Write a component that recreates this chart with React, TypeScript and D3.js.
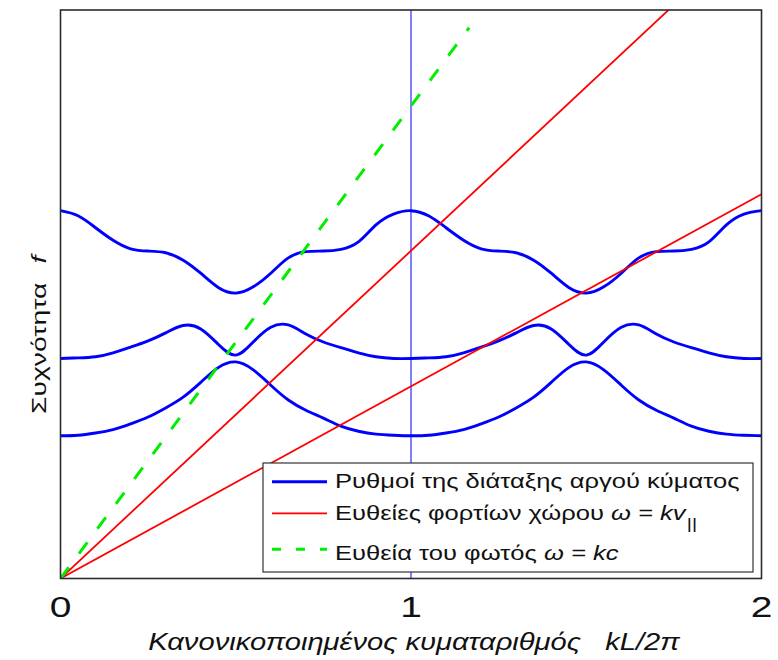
import * as d3 from 'd3';
import React, { useEffect, useRef } from 'react';

// normalized wave number kL/2π
const waveNumbers = [
  0, 0.05, 0.1, 0.15, 0.2, 0.25, 0.3, 0.35, 0.4, 0.45, 0.5, 0.55, 0.6, 0.65, 0.7, 0.75, 0.8, 0.85, 0.9, 0.95, 1,
  1.05, 1.1, 1.15, 1.2, 1.25, 1.3, 1.35, 1.4, 1.45, 1.5, 1.55, 1.6, 1.65, 1.7, 1.75, 1.8, 1.85, 1.9, 1.95, 2,
];

// slow-wave structure modes (normalized frequency)
const lowerMode = [
  0.251, 0.252, 0.256, 0.262, 0.272, 0.284, 0.3, 0.319, 0.345, 0.371, 0.381, 0.367, 0.34, 0.314, 0.296, 0.282, 0.268, 0.259, 0.254, 0.252, 0.251,
  0.252, 0.256, 0.262, 0.272, 0.284, 0.3, 0.319, 0.345, 0.371, 0.381, 0.367, 0.34, 0.314, 0.296, 0.282, 0.268, 0.259, 0.254, 0.252, 0.251,
];
const middleMode = [
  0.387, 0.388, 0.39, 0.397, 0.407, 0.418, 0.432, 0.445, 0.439, 0.412, 0.393, 0.416, 0.442, 0.446, 0.43, 0.416, 0.406, 0.397, 0.39, 0.387, 0.387,
  0.388, 0.39, 0.397, 0.407, 0.418, 0.432, 0.445, 0.439, 0.412, 0.393, 0.416, 0.442, 0.446, 0.43, 0.416, 0.406, 0.397, 0.39, 0.387, 0.387,
];
const upperMode = [
  0.647, 0.638, 0.617, 0.595, 0.58, 0.576, 0.573, 0.56, 0.537, 0.512, 0.502, 0.513, 0.537, 0.564, 0.575, 0.576, 0.579, 0.592, 0.622, 0.641, 0.647,
  0.638, 0.617, 0.595, 0.58, 0.576, 0.573, 0.56, 0.537, 0.512, 0.502, 0.513, 0.537, 0.564, 0.575, 0.576, 0.579, 0.592, 0.622, 0.641, 0.647,
];

// space-charge lines ω = k·v|| (slopes) and light line ω = k·c
const spaceChargeSlopes = [0.5765, 0.338];
const lightLineSlope = 0.831;
const lightLineEnd = 1.166;
const markerK = 1;

const xTicks = [0, 1, 2];
const xLabel = 'Κανονικοποιημένος κυματαριθμός   kL/2π';
const yLabel = 'Συχνότητα';
const yLabelSymbol = 'f';
const legendLabels = [
  'Ρυθμοί της διάταξης αργού κύματος',
  'Ευθείες φορτίων χώρου ',
  'Ευθεία του φωτός ',
];
const legendMath = ['', 'ω = kv', 'ω = kc'];

export default function App() {
  const svgRef = useRef<SVGSVGElement>(null);

  useEffect(() => {
    if (!svgRef.current) return;
    const width = 778;
    const height = 660;
    const margin = { top: 10, right: 16.5, bottom: 81.5, left: 60.5 };
    const font = '"Liberation Sans", Arial, sans-serif';
    const blue = '#0000ff';
    const red = '#ff0000';
    const green = '#00ee00';

    const svg = d3.select(svgRef.current).attr('width', width).attr('height', height);
    svg.selectAll('*').remove();

    const x = d3.scaleLinear().domain([0, 2]).range([margin.left, width - margin.right]);
    const y = d3.scaleLinear().domain([0, 1]).range([height - margin.bottom, margin.top]);

    svg.append('rect').attr('width', width).attr('height', height).attr('fill', '#fff');

    svg
      .append('clipPath')
      .attr('id', 'plot-clip')
      .append('rect')
      .attr('x', x(0))
      .attr('y', y(1))
      .attr('width', x(2) - x(0))
      .attr('height', y(0) - y(1));

    const plot = svg.append('g').attr('clip-path', 'url(#plot-clip)');

    // vertical marker at kL/2π = 1
    plot
      .append('line')
      .attr('x1', x(markerK))
      .attr('x2', x(markerK))
      .attr('y1', y(0))
      .attr('y2', y(1))
      .attr('stroke', blue)
      .attr('stroke-width', 1);

    const line = d3
      .line<number>()
      .x((_, i) => x(waveNumbers[i]))
      .y(d => y(d))
      .curve(d3.curveNatural);

    [lowerMode, middleMode, upperMode].forEach(mode => {
      plot
        .append('path')
        .attr('d', line(mode))
        .attr('fill', 'none')
        .attr('stroke', blue)
        .attr('stroke-width', 2.9);
    });

    spaceChargeSlopes.forEach(s => {
      plot
        .append('line')
        .attr('x1', x(0))
        .attr('y1', y(0))
        .attr('x2', x(2))
        .attr('y2', y(2 * s))
        .attr('stroke', red)
        .attr('stroke-width', 1.8);
    });

    plot
      .append('line')
      .attr('x1', x(0))
      .attr('y1', y(0))
      .attr('x2', x(lightLineEnd))
      .attr('y2', y(lightLineEnd * lightLineSlope))
      .attr('stroke', green)
      .attr('stroke-width', 3)
      .attr('stroke-dasharray', '14 17');

    // frame
    svg
      .append('rect')
      .attr('x', x(0))
      .attr('y', y(1))
      .attr('width', x(2) - x(0))
      .attr('height', y(0) - y(1))
      .attr('fill', 'none')
      .attr('stroke', '#2b2b2b')
      .attr('stroke-width', 1.6);

    // the original font is wider than Liberation Sans: stretch along the reading direction
    const stretch = 1.3;

    svg
      .append('g')
      .selectAll('text')
      .data(xTicks)
      .join('text')
      .attr('transform', d => `translate(${x(d)},617) scale(${stretch},1)`)
      .attr('text-anchor', 'middle')
      .attr('font-family', font)
      .attr('font-size', 30)
      .attr('fill', '#111')
      .text(d => d);

    svg
      .append('text')
      .attr('transform', `translate(414,650) scale(1.19,1)`)
      .attr('text-anchor', 'middle')
      .attr('font-family', font)
      .attr('font-size', 24.5)
      .attr('font-style', 'italic')
      .attr('fill', '#111')
      .style('white-space', 'pre')
      .text(xLabel);

    const yl = svg
      .append('text')
      .attr('transform', 'translate(46,414) rotate(-90) scale(1.38,1)')
      .attr('font-family', font)
      .attr('font-size', 20.5)
      .attr('fill', '#111');
    yl.append('tspan').text(yLabel);
    yl.append('tspan').attr('font-style', 'italic').attr('dx', 14).text(yLabelSymbol);

    // legend
    const legend = svg.append('g');
    legend
      .append('rect')
      .attr('x', 263)
      .attr('y', 463)
      .attr('width', 490)
      .attr('height', 109)
      .attr('fill', '#fff')
      .attr('stroke', '#333')
      .attr('stroke-width', 1.2);

    const rowY = [481.7, 513.3, 549.3];
    const rowBase = [487.5, 519.5, 560];
    const styles = [
      { stroke: blue, width: 2.9, dash: null },
      { stroke: red, width: 1.8, dash: null },
      { stroke: green, width: 3, dash: '9 15' },
    ];
    legendLabels.forEach((label, i) => {
      legend
        .append('line')
        .attr('x1', 272)
        .attr('x2', 327)
        .attr('y1', rowY[i])
        .attr('y2', rowY[i])
        .attr('stroke', styles[i].stroke)
        .attr('stroke-width', styles[i].width)
        .attr('stroke-dasharray', styles[i].dash);
      const t = legend
        .append('text')
        .attr('transform', `translate(335,${rowBase[i]}) scale(1.31,1)`)
        .attr('font-family', font)
        .attr('font-size', 19.5)
        .attr('fill', '#111')
        .style('white-space', 'pre');
      t.append('tspan').text(label);
      if (legendMath[i]) t.append('tspan').attr('font-style', 'italic').text(legendMath[i]);
      if (i === 1) t.append('tspan').attr('dx', 1).attr('dy', 9).attr('font-size', 15).text('||');
    });
  }, []);

  return (
    <div style={{ position: 'absolute', left: 0, top: 0 }}>
      <svg ref={svgRef} style={{ display: 'block' }} />
    </div>
  );
}
